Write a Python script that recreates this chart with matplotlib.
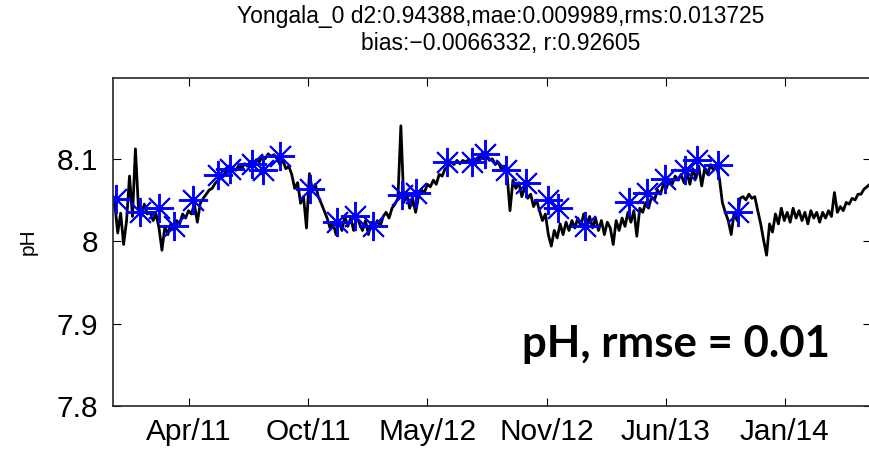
import matplotlib
matplotlib.use('Agg')
import matplotlib.pyplot as plt
import matplotlib.dates as mdates
import pandas as pd

plt.rcParams['font.family'] = ['Liberation Sans', 'DejaVu Sans']

# model pH, one value every 5 days from 2010-11-26
model_start = '2010-11-26'
model_ph = [
    8.046, 8.010, 8.034, 7.996, 8.025, 8.079, 8.030, 8.112, 8.042, 8.030, 8.045, 8.033,
    8.035, 8.025, 8.033, 8.016, 7.989, 8.018, 8.008, 8.021, 8.013, 8.025, 8.021, 8.033,
    8.028, 8.037, 8.033, 8.045, 8.023, 8.046, 8.052, 8.057, 8.062, 8.064, 8.070, 8.074,
    8.079, 8.081, 8.086, 8.083, 8.089, 8.086, 8.092, 8.088, 8.094, 8.091, 8.097, 8.093,
    8.099, 8.096, 8.103, 8.100, 8.106, 8.103, 8.105, 8.100, 8.093, 8.098, 8.088, 8.091,
    8.081, 8.064, 8.071, 8.046, 8.054, 8.016, 8.082, 8.062, 8.069, 8.054, 8.046, 8.037,
    8.028, 8.016, 8.023, 8.008, 8.025, 8.013, 8.030, 8.018, 8.028, 8.013, 8.030, 8.021,
    8.013, 8.025, 8.008, 8.023, 8.016, 8.025, 8.018, 8.030, 8.035, 8.028, 8.040, 8.045,
    8.052, 8.140, 8.047, 8.057, 8.040, 8.052, 8.035, 8.054, 8.062, 8.059, 8.069, 8.066,
    8.074, 8.069, 8.081, 8.079, 8.088, 8.091, 8.096, 8.093, 8.098, 8.094, 8.098, 8.096,
    8.099, 8.094, 8.100, 8.097, 8.103, 8.100, 8.104, 8.098, 8.100, 8.093, 8.096, 8.088,
    8.091, 8.081, 8.037, 8.074, 8.064, 8.071, 8.054, 8.066, 8.052, 8.057, 8.042, 8.050,
    8.037, 8.025, 8.033, 8.008, 7.994, 8.013, 8.004, 8.021, 8.008, 8.023, 8.013, 8.025,
    8.016, 8.028, 8.018, 8.033, 8.021, 8.030, 8.016, 8.028, 8.013, 8.025, 8.008, 8.023,
    8.016, 7.996, 8.025, 8.013, 8.028, 8.018, 8.035, 8.023, 8.037, 8.006, 8.040, 8.035,
    8.047, 8.040, 8.054, 8.050, 8.062, 8.057, 8.069, 8.064, 8.074, 8.069, 8.079, 8.074,
    8.081, 8.071, 8.083, 8.069, 8.088, 8.076, 8.091, 8.067, 8.088, 8.081, 8.093, 8.086,
    8.091, 8.076, 8.047, 8.035, 8.025, 8.008, 8.035, 8.025, 8.052, 8.054, 8.050, 8.057,
    8.052, 8.054, 8.037, 8.021, 8.001, 7.983, 8.021, 8.011, 8.033, 8.021, 8.040, 8.025,
    8.035, 8.023, 8.040, 8.028, 8.037, 8.025, 8.035, 8.021, 8.037, 8.028, 8.035, 8.023,
    8.035, 8.028, 8.037, 8.030, 8.059, 8.035, 8.042, 8.037, 8.047, 8.045, 8.052, 8.050,
    8.057, 8.057, 8.063, 8.066, 8.069,
]

# observations (blue stars)
obs_dates = ['2010-11-28', '2011-01-08', '2011-02-09', '2011-03-07', '2011-04-08',
             '2011-05-20', '2011-06-10', '2011-07-17', '2011-08-04', '2011-09-02',
             '2011-10-23', '2011-12-08', '2012-01-07', '2012-02-07', '2012-03-27',
             '2012-04-20', '2012-06-11', '2012-07-24', '2012-08-15', '2012-09-19',
             '2012-10-23', '2012-11-29', '2012-12-16', '2013-01-31', '2013-04-16',
             '2013-05-16', '2013-06-16', '2013-07-20', '2013-08-09', '2013-09-14',
             '2013-10-17']
obs_ph = [8.051, 8.036, 8.040, 8.018, 8.050, 8.080, 8.087, 8.094, 8.086, 8.103,
          8.063, 8.023, 8.030, 8.018, 8.056, 8.058, 8.096, 8.096, 8.106, 8.086,
          8.070, 8.050, 8.040, 8.019, 8.047, 8.058, 8.076, 8.086, 8.098, 8.092,
          8.036]

tick_dates = ['2011-04-01', '2011-10-20', '2012-05-09', '2012-11-27', '2013-06-17', '2014-01-05']
y_ticks = [7.8, 7.9, 8.0, 8.1]
y_labels = ['7.8', '7.9', '8', '8.1']

title = 'Yongala_0 d2:0.94388,mae:0.009989,rms:0.013725\nbias:\u22120.0066332, r:0.92605'

model_dates = pd.date_range(model_start, periods=len(model_ph), freq='5D')

fig = plt.figure(figsize=(8.7, 4.53), dpi=100)
ax = fig.add_axes([113/870, 47/453, 758/870, 328/453])

ax.plot(model_dates, model_ph, color='black', lw=2.0)
ax.plot(pd.to_datetime(obs_dates), obs_ph, ls='none', marker=(8, 2, 0),
        ms=21, mew=1.4, color='blue')

ax.set_xlim(pd.Timestamp('2010-11-23'), pd.Timestamp('2014-05-31'))
ax.set_ylim(7.8, 8.198)
ax.set_xticks(pd.to_datetime(tick_dates))
ax.xaxis.set_major_formatter(mdates.DateFormatter('%b/%y'))
ax.set_yticks(y_ticks)
ax.set_yticklabels(y_labels)
ax.tick_params(direction='in', length=5.5, width=0.8, top=True, right=True, labelsize=21.5)
ax.tick_params(axis='y', pad=10.5)
ax.tick_params(axis='x', pad=9)
for s in ax.spines.values():
    s.set_linewidth(1.2)
    s.set_color('#262626')

ax.set_ylabel('pH', fontsize=15, labelpad=14)

fig.text(0.575, 1 - 50/453, title, ha='center', va='baseline', fontsize=16.5,
         linespacing=1.22, multialignment='center')

ax.text(0.946, 0.149, 'pH, rmse = 0.01', transform=ax.transAxes, ha='right',
        va='baseline', fontsize=31.5, fontweight='bold', family=['Lato', 'DejaVu Sans'])

fig.savefig('out.png', dpi=100)
